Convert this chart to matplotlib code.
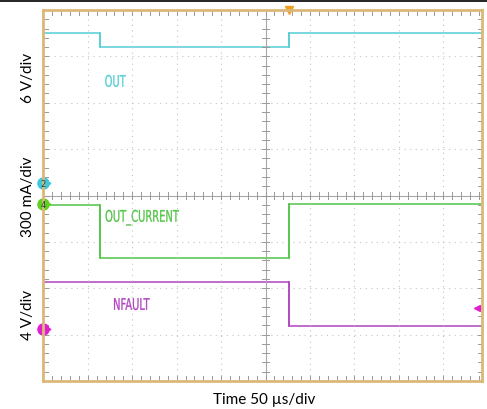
import numpy as np
import matplotlib
matplotlib.use('Agg')
import matplotlib.pyplot as plt
from matplotlib.lines import Line2D
from matplotlib.textpath import TextPath
from matplotlib.patches import PathPatch
from matplotlib.font_manager import FontProperties
import matplotlib.transforms as mtransforms

# screen is 10 x 8 divisions, picture is cropped a bit on the right
x_max = 9.87
# edges of the step traces, in divisions (50 us/div)
t_edges = [0.0, 1.27, 5.52, x_max]
out_levels = [7.50, 7.21, 7.50]          # 6 V/div
current_levels = [3.80, 2.66, 3.81]      # 300 mA/div
nfault_edges = [0.0, 5.52, x_max]
nfault_levels = [2.13, 1.19]             # 4 V/div

ch_labels = ['OUT', 'OUT_CURRENT', 'NFAULT']
ch_colors = ['#55cdd5', '#52c446', '#b043c0']
ch_label_pos = [(1.38, 6.47), (1.39, 3.56), (1.57, 1.66)]
ground_markers = [4.26, 3.81, 1.12]
marker_colors = ['#3cc8dc', '#5fd020', '#e020d0']
marker_text = ['2', '4', '']
y_labels = ['6 V/div', '300 mA/div', '4 V/div']
y_label_pos = [6.55, 4.0, 1.45]
trigger_t = 5.52

fig = plt.figure(figsize=(4.87, 4.10), dpi=100)
ax = fig.add_axes([43.3/487, 28/410, (482-43.3)/487, 371/410])
ax.set_xlim(0, x_max)
ax.set_ylim(0, 8)
ax.set_xticks([])
ax.set_yticks([])
for s in ax.spines.values():
    s.set_color('#dcb878')
    s.set_linewidth(2)

# dotted graticule
for gx in range(1, 10):
    if gx != 5:
        ax.axvline(gx, color='#c4c4c4', lw=0.8, ls=(0, (1, 4)))
for gy in range(1, 8):
    if gy != 4:
        ax.axhline(gy, color='#c4c4c4', lw=0.8, ls=(0, (1, 4)))
ax.axvline(5, color='#a8a8a8', lw=0.8)
ax.axhline(4, color='#a8a8a8', lw=0.8)

# small ticks every 0.2 div on the crosshair and on the border
tick_x = np.arange(0, x_max + 0.01, 0.2)
tick_y = np.arange(0, 8.01, 0.2)
tk = dict(color='#999999', lw=0.7)
for tx in tick_x:
    ax.plot([tx, tx], [3.93, 4.07], **tk)
    ax.plot([tx, tx], [0, 0.1], **tk)
    ax.plot([tx, tx], [7.9, 8], **tk)
for ty in tick_y:
    ax.plot([4.93, 5.07], [ty, ty], **tk)
    ax.plot([0, 0.1], [ty, ty], **tk)
    ax.plot([x_max - 0.1, x_max], [ty, ty], **tk)

# traces
lw = 1.1
ax.stairs(out_levels, t_edges, baseline=None, color=ch_colors[0], lw=lw)
ax.stairs(current_levels, t_edges, baseline=None, color=ch_colors[1], lw=lw)
ax.stairs(nfault_levels, nfault_edges, baseline=None, color=ch_colors[2], lw=lw)
# vertical edges
ax.plot([t_edges[1], t_edges[1]], [out_levels[0], out_levels[1]], color=ch_colors[0], lw=lw)
ax.plot([t_edges[2], t_edges[2]], [out_levels[1], out_levels[2]], color=ch_colors[0], lw=lw)
ax.plot([t_edges[1], t_edges[1]], [current_levels[0], current_levels[1]], color=ch_colors[1], lw=lw)
ax.plot([t_edges[2], t_edges[2]], [current_levels[1], current_levels[2]], color=ch_colors[1], lw=lw)
ax.plot([nfault_edges[1], nfault_edges[1]], nfault_levels, color=ch_colors[2], lw=lw)

# scope labels use a narrow font: draw them as squeezed text paths
fp = FontProperties(family='DejaVu Sans')
for lab, c, (lx, ly) in zip(ch_labels, ch_colors, ch_label_pos):
    path = TextPath((0, 0), lab, size=16, prop=fp)
    trans = (mtransforms.Affine2D().scale(0.62, 1.0).translate(0, -5.8)
             + mtransforms.ScaledTranslation(lx, ly, ax.transData))
    ax.add_patch(PathPatch(path, transform=trans, color=c, lw=0.2, clip_on=False))

# ground markers on the left edge
for gy, c, t in zip(ground_markers, marker_colors, marker_text):
    ax.plot([0.1], [gy], marker='>', ms=3.5, color=c, clip_on=False)
    ax.plot([0], [gy], marker='o', ms=9, color=c, clip_on=False, mec='none')
    if t:
        ax.text(0, gy, t, color='#204040', fontsize=6, ha='center', va='center')

# threshold arrow on the right
ax.plot([x_max - 0.12], [1.57], marker='<', ms=4, color='#e020d0', clip_on=False)
ax.plot([x_max - 0.12, x_max - 0.02], [1.57, 1.57], color='#e020d0', lw=1.2)

# trigger position
ax.plot([trigger_t], [8.0], marker='v', ms=6, color='#f0a020', clip_on=False)

for lab, ly in zip(y_labels, y_label_pos):
    ax.text(-0.35, ly, lab, rotation=90, fontsize=11, family='Lato',
            ha='center', va='center', transform=ax.transData)

fig.text(264/487, 1 - 400/410, 'Time 50 \u00b5s/div', fontsize=11, family='Lato',
         ha='center', va='center')

fig.add_artist(Line2D([0, 1], [1 - 2/410, 1 - 2/410], color='black', lw=1.2))

fig.savefig('out.png', dpi=100)
